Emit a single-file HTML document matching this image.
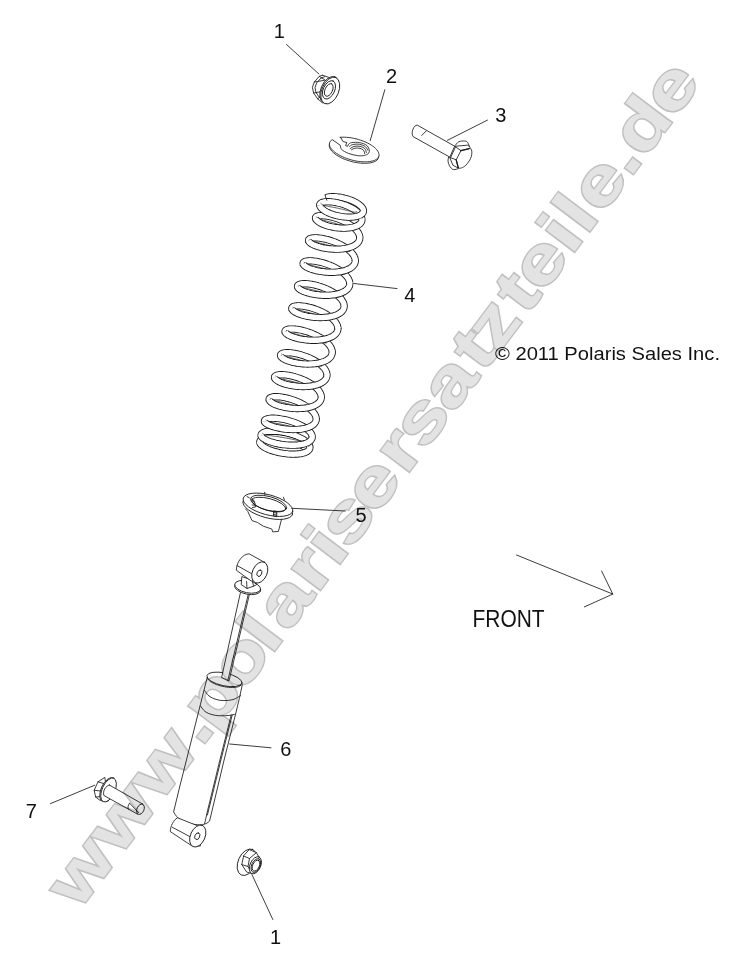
<!DOCTYPE html>
<html><head><meta charset="utf-8"><title>Shock diagram</title>
<style>
html,body{margin:0;padding:0;background:#fff;}
body{width:742px;height:967px;overflow:hidden;position:relative;}
svg{position:absolute;left:0;top:0;display:block;}
text{font-family:"Liberation Sans",sans-serif;}
.ln{fill:none;stroke:#1a1a1a;stroke-width:0.85;stroke-linecap:round;stroke-linejoin:round;}
.lw{fill:#fff;stroke:#1a1a1a;stroke-width:0.85;stroke-linecap:round;stroke-linejoin:round;}
.lk{fill:none;stroke:#1a1a1a;stroke-width:1.3;stroke-linecap:round;}
.lb{fill:#111;font-size:20px;}
</style></head><body>
<svg width="742" height="967" viewBox="0 0 742 967">
<path d="M325.9 197.6L326.7 197.4L327.6 197.2L328.5 197.0L329.5 196.9L330.6 196.8L331.7 196.7L332.8 196.7L334.0 196.7L335.2 196.8L336.5 196.9L337.8 197.0L339.1 197.1L340.4 197.3L341.7 197.6L343.0 197.8L344.4 198.2L345.7 198.5L347.0 198.9L348.3 199.3L349.5 199.7L350.8 200.1L352.0 200.6L353.1 201.1L354.3 201.7L355.3 202.2L356.4 202.8L357.3 203.4L358.3 204.0L359.1 204.6L359.9 205.2L360.6 205.8L361.2 206.4L361.8 207.1L362.3 207.7L362.7 208.3L363.0 208.9L363.2 209.5L363.4 210.1L363.4 210.7" fill="none" stroke="#1a1a1a" stroke-width="7.2" stroke-linecap="butt" stroke-linejoin="round"/>
<path d="M325.9 197.6L326.7 197.4L327.6 197.2L328.5 197.0L329.5 196.9L330.5 196.8L331.6 196.7L332.7 196.7L333.9 196.7L335.1 196.8L336.4 196.8L337.6 197.0L338.9 197.1L340.2 197.3L341.5 197.5L342.8 197.8L344.1 198.1L345.4 198.4L346.7 198.8L348.0 199.2L349.3 199.6L350.5 200.0L351.7 200.5L352.9 201.0L354.0 201.5L355.1 202.1L356.1 202.6L357.1 203.2L358.0 203.8L358.9 204.4L359.6 205.0L360.4 205.6L361.0 206.2L361.6 206.8L362.1 207.5L362.5 208.1L362.9 208.7L363.1 209.3L363.3 209.9L363.4 210.5L363.4 211.1" fill="none" stroke="#fff" stroke-width="5.44" stroke-linecap="butt" stroke-linejoin="round"/>
<path d="M319.8 205.7L319.7 205.2L319.7 204.8L319.8 204.4L319.9 204.1L320.2 203.7L320.5 203.4L320.9 203.1L321.4 202.8L321.9 202.5L322.6 202.3L323.3 202.1L324.1 202.0L324.9 201.9L325.9 201.8L326.9 201.7L327.9 201.7L329.0 201.7L330.2 201.8L331.4 201.9L332.6 202.0L333.9 202.2L335.2 202.4L336.5 202.7L337.8 202.9L339.2 203.3L340.5 203.6L341.9 204.0L343.2 204.5L344.6 204.9L345.9 205.4L347.2 206.0L348.5 206.5L349.8 207.1L351.0 207.7L352.2 208.4L353.3 209.0L354.4 209.7L355.4 210.4L356.4 211.1L357.2 211.9L358.1 212.6L358.8 213.3L359.5 214.1L360.1 214.8L360.6 215.6L361.1 216.3L361.4 217.1L361.7 217.8L361.8 218.6L361.9 219.3" fill="none" stroke="#1a1a1a" stroke-width="7.2" stroke-linecap="butt" stroke-linejoin="round"/>
<path d="M319.9 206.0L319.8 205.5L319.7 205.1L319.7 204.7L319.8 204.3L320.0 203.9L320.3 203.6L320.6 203.3L321.0 203.0L321.5 202.7L322.1 202.5L322.7 202.3L323.5 202.1L324.3 201.9L325.1 201.8L326.0 201.8L327.0 201.7L328.1 201.7L329.2 201.7L330.3 201.8L331.5 201.9L332.7 202.0L333.9 202.2L335.2 202.4L336.5 202.7L337.8 203.0L339.2 203.3L340.5 203.6L341.8 204.0L343.2 204.5L344.5 204.9L345.8 205.4L347.1 205.9L348.4 206.5L349.6 207.1L350.8 207.7L352.0 208.3L353.1 208.9L354.2 209.6L355.2 210.3L356.1 211.0L357.0 211.7L357.9 212.4L358.6 213.1L359.3 213.9L359.9 214.6L360.5 215.4L360.9 216.1L361.3 216.8L361.6 217.6L361.8 218.3L361.9 219.0L361.9 219.7" fill="none" stroke="#fff" stroke-width="5.44" stroke-linecap="butt" stroke-linejoin="round"/>
<path d="M315.7 218.7L315.5 218.3L315.5 217.9L315.5 217.6L315.6 217.3L315.9 217.0L316.2 216.7L316.6 216.4L317.1 216.2L317.7 216.0L318.4 215.9L319.1 215.8L319.9 215.7L320.8 215.6L321.8 215.6L322.9 215.7L324.0 215.7L325.1 215.8L326.4 216.0L327.6 216.2L328.9 216.4L330.3 216.7L331.6 217.0L333.0 217.4L334.5 217.8L335.9 218.2L337.3 218.7L338.8 219.2L340.2 219.8L341.6 220.4L343.1 221.0L344.4 221.6L345.8 222.3L347.1 223.1L348.4 223.8L349.7 224.6L350.9 225.4L352.0 226.2L353.1 227.0L354.1 227.9L355.0 228.8L355.9 229.6L356.7 230.5L357.4 231.4L358.0 232.3L358.5 233.2L358.9 234.1L359.3 235.0L359.5 235.9L359.7 236.8L359.8 237.6" fill="none" stroke="#1a1a1a" stroke-width="7.2" stroke-linecap="butt" stroke-linejoin="round"/>
<path d="M315.8 219.0L315.6 218.5L315.5 218.1L315.5 217.8L315.6 217.4L315.7 217.1L316.0 216.8L316.4 216.6L316.8 216.3L317.4 216.1L318.0 216.0L318.7 215.8L319.5 215.7L320.3 215.7L321.3 215.6L322.3 215.6L323.4 215.7L324.5 215.8L325.7 215.9L326.9 216.1L328.2 216.3L329.6 216.5L330.9 216.8L332.3 217.2L333.7 217.6L335.2 218.0L336.6 218.4L338.1 219.0L339.5 219.5L341.0 220.1L342.4 220.7L343.8 221.3L345.2 222.0L346.5 222.7L347.8 223.5L349.1 224.2L350.3 225.0L351.5 225.8L352.6 226.7L353.6 227.5L354.6 228.4L355.5 229.3L356.3 230.1L357.1 231.0L357.7 231.9L358.3 232.8L358.8 233.7L359.2 234.6L359.5 235.5L359.7 236.4L359.8 237.3L359.8 238.1" fill="none" stroke="#fff" stroke-width="5.44" stroke-linecap="butt" stroke-linejoin="round"/>
<path d="M308.7 241.2L308.5 240.8L308.5 240.4L308.6 240.0L308.7 239.6L309.0 239.3L309.4 239.0L309.8 238.7L310.4 238.5L311.0 238.3L311.8 238.1L312.6 238.0L313.5 237.9L314.5 237.8L315.5 237.8L316.6 237.8L317.8 237.9L319.1 238.0L320.4 238.2L321.7 238.4L323.1 238.6L324.5 238.9L326.0 239.3L327.5 239.6L329.0 240.0L330.5 240.5L332.0 241.0L333.6 241.6L335.1 242.1L336.6 242.8L338.1 243.4L339.5 244.1L340.9 244.8L342.3 245.6L343.7 246.4L345.0 247.2L346.2 248.0L347.4 248.9L348.5 249.7L349.5 250.6L350.5 251.5L351.4 252.4L352.2 253.4L352.9 254.3L353.5 255.2L354.1 256.1L354.5 257.1L354.9 258.0L355.1 258.9L355.2 259.8L355.3 260.7" fill="none" stroke="#1a1a1a" stroke-width="7.2" stroke-linecap="butt" stroke-linejoin="round"/>
<path d="M308.8 241.4L308.6 241.0L308.5 240.6L308.5 240.2L308.6 239.8L308.8 239.5L309.1 239.2L309.5 238.9L310.0 238.6L310.6 238.4L311.3 238.2L312.1 238.1L313.0 237.9L313.9 237.9L314.9 237.8L316.0 237.8L317.2 237.9L318.4 238.0L319.7 238.1L321.0 238.3L322.4 238.5L323.8 238.8L325.3 239.1L326.7 239.4L328.2 239.8L329.8 240.3L331.3 240.8L332.8 241.3L334.3 241.9L335.8 242.5L337.3 243.1L338.8 243.8L340.3 244.5L341.7 245.2L343.0 246.0L344.4 246.8L345.6 247.6L346.8 248.5L348.0 249.3L349.1 250.2L350.1 251.1L351.0 252.0L351.8 252.9L352.6 253.9L353.3 254.8L353.8 255.7L354.3 256.7L354.7 257.6L355.0 258.5L355.2 259.4L355.3 260.3L355.3 261.2" fill="none" stroke="#fff" stroke-width="5.44" stroke-linecap="butt" stroke-linejoin="round"/>
<path d="M303.3 264.2L303.1 263.8L303.1 263.4L303.2 263.0L303.3 262.6L303.6 262.3L303.9 262.0L304.4 261.7L305.0 261.5L305.6 261.3L306.3 261.1L307.1 261.0L308.0 260.9L309.0 260.8L310.1 260.8L311.2 260.8L312.4 260.9L313.6 261.0L314.9 261.2L316.3 261.4L317.7 261.6L319.1 261.9L320.6 262.3L322.0 262.6L323.6 263.0L325.1 263.5L326.6 264.0L328.1 264.6L329.6 265.1L331.1 265.8L332.6 266.4L334.1 267.1L335.5 267.8L336.9 268.6L338.2 269.4L339.5 270.2L340.7 271.0L341.9 271.9L343.0 272.7L344.0 273.6L345.0 274.5L345.9 275.4L346.7 276.4L347.4 277.3L348.0 278.2L348.6 279.1L349.0 280.1L349.4 281.0L349.6 281.9L349.7 282.8L349.8 283.7" fill="none" stroke="#1a1a1a" stroke-width="7.2" stroke-linecap="butt" stroke-linejoin="round"/>
<path d="M303.4 264.4L303.2 264.0L303.1 263.6L303.1 263.2L303.2 262.8L303.4 262.5L303.7 262.2L304.1 261.9L304.6 261.6L305.2 261.4L305.9 261.2L306.7 261.1L307.5 260.9L308.5 260.9L309.5 260.8L310.6 260.8L311.7 260.9L313.0 261.0L314.2 261.1L315.6 261.3L316.9 261.5L318.4 261.8L319.8 262.1L321.3 262.4L322.8 262.8L324.3 263.3L325.8 263.8L327.4 264.3L328.9 264.9L330.4 265.5L331.9 266.1L333.4 266.8L334.8 267.5L336.2 268.2L337.6 269.0L338.9 269.8L340.2 270.6L341.4 271.5L342.5 272.3L343.6 273.2L344.6 274.1L345.5 275.0L346.4 275.9L347.1 276.9L347.8 277.8L348.4 278.7L348.8 279.7L349.2 280.6L349.5 281.5L349.7 282.4L349.8 283.3L349.8 284.2" fill="none" stroke="#fff" stroke-width="5.44" stroke-linecap="butt" stroke-linejoin="round"/>
<path d="M297.7 287.2L297.5 286.7L297.5 286.3L297.6 286.0L297.7 285.6L298.0 285.3L298.3 284.9L298.8 284.7L299.3 284.4L300.0 284.2L300.7 284.0L301.5 283.9L302.4 283.8L303.4 283.7L304.5 283.7L305.6 283.7L306.8 283.8L308.0 283.9L309.3 284.0L310.7 284.2L312.1 284.4L313.5 284.7L314.9 285.0L316.4 285.4L317.9 285.8L319.4 286.3L321.0 286.8L322.5 287.3L324.0 287.9L325.5 288.5L327.0 289.1L328.4 289.8L329.8 290.5L331.2 291.3L332.6 292.0L333.9 292.8L335.1 293.6L336.3 294.5L337.4 295.4L338.4 296.2L339.4 297.1L340.3 298.0L341.1 298.9L341.8 299.8L342.4 300.8L342.9 301.7L343.4 302.6L343.7 303.5L344.0 304.4L344.1 305.3L344.1 306.2" fill="none" stroke="#1a1a1a" stroke-width="7.2" stroke-linecap="butt" stroke-linejoin="round"/>
<path d="M297.8 287.4L297.6 287.0L297.5 286.6L297.5 286.2L297.6 285.8L297.8 285.4L298.1 285.1L298.5 284.8L299.0 284.6L299.6 284.3L300.3 284.1L301.1 283.9L301.9 283.8L302.9 283.7L303.9 283.7L305.0 283.7L306.1 283.7L307.3 283.8L308.6 283.9L310.0 284.1L311.3 284.3L312.7 284.6L314.2 284.9L315.7 285.2L317.2 285.6L318.7 286.0L320.2 286.5L321.7 287.0L323.3 287.6L324.8 288.2L326.3 288.8L327.7 289.5L329.2 290.2L330.6 290.9L331.9 291.7L333.3 292.5L334.5 293.3L335.7 294.1L336.9 295.0L337.9 295.8L338.9 296.7L339.9 297.6L340.7 298.5L341.5 299.4L342.1 300.4L342.7 301.3L343.2 302.2L343.6 303.1L343.9 304.0L344.0 304.9L344.1 305.8L344.1 306.7" fill="none" stroke="#fff" stroke-width="5.44" stroke-linecap="butt" stroke-linejoin="round"/>
<path d="M292.0 309.2L291.8 308.8L291.8 308.4L291.8 308.0L292.0 307.6L292.2 307.3L292.6 307.0L293.0 306.7L293.6 306.5L294.2 306.3L294.9 306.1L295.7 306.0L296.6 305.9L297.6 305.8L298.6 305.8L299.7 305.8L300.9 305.9L302.1 306.0L303.4 306.2L304.8 306.4L306.1 306.6L307.6 306.9L309.0 307.3L310.5 307.6L312.0 308.0L313.5 308.5L315.0 309.0L316.5 309.6L318.0 310.1L319.5 310.8L320.9 311.4L322.4 312.1L323.8 312.8L325.2 313.6L326.5 314.4L327.8 315.2L329.0 316.0L330.2 316.9L331.3 317.7L332.3 318.6L333.2 319.5L334.1 320.4L334.9 321.4L335.6 322.3L336.2 323.2L336.7 324.1L337.2 325.1L337.5 326.0L337.7 326.9L337.9 327.8L337.9 328.7" fill="none" stroke="#1a1a1a" stroke-width="7.2" stroke-linecap="butt" stroke-linejoin="round"/>
<path d="M292.1 309.4L291.9 309.0L291.8 308.6L291.8 308.2L291.9 307.8L292.1 307.5L292.4 307.2L292.8 306.9L293.2 306.6L293.8 306.4L294.5 306.2L295.3 306.1L296.1 305.9L297.0 305.9L298.0 305.8L299.1 305.8L300.3 305.9L301.5 306.0L302.7 306.1L304.1 306.3L305.4 306.5L306.8 306.8L308.3 307.1L309.7 307.4L311.2 307.8L312.7 308.3L314.2 308.8L315.7 309.3L317.2 309.9L318.7 310.5L320.2 311.1L321.7 311.8L323.1 312.5L324.5 313.2L325.9 314.0L327.2 314.8L328.4 315.6L329.6 316.5L330.8 317.3L331.8 318.2L332.8 319.1L333.7 320.0L334.6 320.9L335.3 321.9L336.0 322.8L336.5 323.7L337.0 324.7L337.4 325.6L337.6 326.5L337.8 327.4L337.9 328.3L337.9 329.2" fill="none" stroke="#fff" stroke-width="5.44" stroke-linecap="butt" stroke-linejoin="round"/>
<path d="M285.2 332.2L285.0 331.8L285.0 331.4L285.1 331.0L285.3 330.7L285.5 330.3L285.9 330.1L286.4 329.8L286.9 329.6L287.6 329.4L288.3 329.2L289.2 329.1L290.1 329.0L291.1 329.0L292.1 329.0L293.3 329.0L294.5 329.1L295.7 329.2L297.0 329.4L298.4 329.6L299.8 329.8L301.2 330.1L302.7 330.5L304.2 330.9L305.7 331.3L307.2 331.8L308.8 332.3L310.3 332.8L311.8 333.4L313.3 334.1L314.8 334.7L316.3 335.4L317.7 336.2L319.1 336.9L320.5 337.7L321.8 338.5L323.0 339.4L324.2 340.2L325.3 341.1L326.4 342.0L327.4 342.9L328.2 343.8L329.1 344.8L329.8 345.7L330.4 346.7L331.0 347.6L331.4 348.5L331.8 349.5L332.0 350.4L332.2 351.3L332.2 352.2" fill="none" stroke="#1a1a1a" stroke-width="7.2" stroke-linecap="butt" stroke-linejoin="round"/>
<path d="M285.3 332.4L285.1 332.0L285.0 331.6L285.0 331.2L285.1 330.9L285.4 330.5L285.7 330.2L286.1 329.9L286.6 329.7L287.2 329.5L287.9 329.3L288.7 329.2L289.6 329.0L290.5 329.0L291.5 329.0L292.6 329.0L293.8 329.0L295.0 329.1L296.3 329.3L297.7 329.5L299.1 329.7L300.5 330.0L301.9 330.3L303.4 330.7L304.9 331.1L306.5 331.5L308.0 332.0L309.5 332.5L311.1 333.1L312.6 333.7L314.1 334.4L315.6 335.1L317.1 335.8L318.5 336.6L319.8 337.3L321.2 338.1L322.5 339.0L323.7 339.8L324.8 340.7L325.9 341.6L326.9 342.5L327.9 343.4L328.7 344.4L329.5 345.3L330.2 346.2L330.7 347.2L331.2 348.1L331.6 349.1L331.9 350.0L332.1 350.9L332.2 351.8L332.2 352.7" fill="none" stroke="#fff" stroke-width="5.44" stroke-linecap="butt" stroke-linejoin="round"/>
<path d="M280.7 356.2L280.5 355.7L280.5 355.3L280.5 355.0L280.7 354.6L281.0 354.3L281.3 353.9L281.8 353.7L282.3 353.4L283.0 353.2L283.7 353.0L284.5 352.9L285.4 352.8L286.4 352.7L287.4 352.7L288.5 352.7L289.7 352.8L291.0 352.9L292.3 353.0L293.6 353.2L295.0 353.4L296.4 353.7L297.9 354.0L299.4 354.4L300.9 354.8L302.4 355.3L303.9 355.8L305.4 356.3L306.9 356.9L308.4 357.5L309.9 358.1L311.3 358.8L312.7 359.5L314.1 360.3L315.5 361.0L316.8 361.8L318.0 362.6L319.2 363.5L320.3 364.4L321.3 365.2L322.2 366.1L323.1 367.0L323.9 367.9L324.6 368.8L325.3 369.8L325.8 370.7L326.2 371.6L326.6 372.5L326.8 373.4L326.9 374.3L327.0 375.2" fill="none" stroke="#1a1a1a" stroke-width="7.2" stroke-linecap="butt" stroke-linejoin="round"/>
<path d="M280.8 356.4L280.6 356.0L280.5 355.6L280.5 355.2L280.6 354.8L280.8 354.4L281.1 354.1L281.5 353.8L282.0 353.6L282.6 353.3L283.3 353.1L284.0 352.9L284.9 352.8L285.8 352.7L286.8 352.7L287.9 352.7L289.1 352.7L290.3 352.8L291.6 352.9L292.9 353.1L294.3 353.3L295.7 353.6L297.1 353.9L298.6 354.2L300.1 354.6L301.6 355.0L303.1 355.5L304.6 356.0L306.2 356.6L307.7 357.2L309.2 357.8L310.6 358.5L312.1 359.2L313.5 359.9L314.8 360.7L316.2 361.5L317.4 362.3L318.6 363.1L319.8 364.0L320.8 364.8L321.8 365.7L322.7 366.6L323.6 367.5L324.3 368.4L325.0 369.4L325.6 370.3L326.1 371.2L326.4 372.1L326.7 373.0L326.9 373.9L327.0 374.8L327.0 375.7" fill="none" stroke="#fff" stroke-width="5.44" stroke-linecap="butt" stroke-linejoin="round"/>
<path d="M274.7 378.2L274.5 377.7L274.5 377.3L274.6 377.0L274.7 376.6L275.0 376.3L275.4 375.9L275.8 375.7L276.4 375.4L277.0 375.2L277.8 375.0L278.6 374.9L279.5 374.8L280.5 374.7L281.5 374.7L282.6 374.7L283.8 374.8L285.1 374.9L286.4 375.0L287.7 375.2L289.1 375.4L290.5 375.7L292.0 376.0L293.5 376.4L295.0 376.8L296.5 377.3L298.0 377.8L299.6 378.3L301.1 378.9L302.6 379.5L304.1 380.1L305.5 380.8L306.9 381.5L308.3 382.3L309.7 383.0L311.0 383.8L312.2 384.6L313.4 385.5L314.5 386.4L315.5 387.2L316.5 388.1L317.4 389.0L318.2 389.9L318.9 390.8L319.5 391.8L320.1 392.7L320.5 393.6L320.9 394.5L321.1 395.4L321.2 396.3L321.3 397.2" fill="none" stroke="#1a1a1a" stroke-width="7.2" stroke-linecap="butt" stroke-linejoin="round"/>
<path d="M274.8 378.4L274.6 378.0L274.5 377.6L274.5 377.2L274.6 376.8L274.8 376.4L275.1 376.1L275.5 375.8L276.0 375.6L276.6 375.3L277.3 375.1L278.1 374.9L279.0 374.8L279.9 374.7L280.9 374.7L282.0 374.7L283.2 374.7L284.4 374.8L285.7 374.9L287.0 375.1L288.4 375.3L289.8 375.6L291.3 375.9L292.7 376.2L294.2 376.6L295.8 377.0L297.3 377.5L298.8 378.0L300.3 378.6L301.8 379.2L303.3 379.8L304.8 380.5L306.3 381.2L307.7 381.9L309.0 382.7L310.4 383.5L311.6 384.3L312.8 385.1L314.0 386.0L315.1 386.8L316.1 387.7L317.0 388.6L317.8 389.5L318.6 390.4L319.3 391.4L319.8 392.3L320.3 393.2L320.7 394.1L321.0 395.0L321.2 395.9L321.3 396.8L321.3 397.7" fill="none" stroke="#fff" stroke-width="5.44" stroke-linecap="butt" stroke-linejoin="round"/>
<path d="M269.3 400.2L269.1 399.7L269.1 399.3L269.2 398.9L269.4 398.6L269.6 398.2L270.0 397.9L270.5 397.6L271.0 397.4L271.7 397.2L272.4 397.0L273.2 396.8L274.2 396.7L275.1 396.7L276.2 396.7L277.3 396.7L278.5 396.8L279.8 396.9L281.1 397.0L282.5 397.2L283.9 397.5L285.3 397.8L286.8 398.1L288.3 398.5L289.8 398.9L291.3 399.4L292.8 399.9L294.4 400.4L295.9 401.0L297.4 401.6L298.9 402.3L300.4 402.9L301.8 403.7L303.2 404.4L304.5 405.2L305.8 406.0L307.1 406.8L308.3 407.6L309.4 408.5L310.4 409.3L311.4 410.2L312.3 411.1L313.1 412.0L313.8 412.9L314.5 413.8L315.0 414.7L315.4 415.6L315.8 416.4L316.0 417.3L316.2 418.2L316.2 419.0" fill="none" stroke="#1a1a1a" stroke-width="7.2" stroke-linecap="butt" stroke-linejoin="round"/>
<path d="M269.4 400.4L269.2 400.0L269.1 399.6L269.1 399.2L269.2 398.8L269.5 398.4L269.8 398.1L270.2 397.8L270.7 397.5L271.3 397.3L272.0 397.1L272.8 396.9L273.6 396.8L274.6 396.7L275.6 396.7L276.7 396.7L277.9 396.7L279.1 396.8L280.4 396.9L281.7 397.1L283.1 397.4L284.6 397.6L286.0 397.9L287.5 398.3L289.0 398.7L290.5 399.1L292.1 399.6L293.6 400.1L295.2 400.7L296.7 401.3L298.2 401.9L299.7 402.6L301.1 403.3L302.5 404.1L303.9 404.8L305.2 405.6L306.5 406.4L307.7 407.2L308.9 408.1L310.0 408.9L311.0 409.8L311.9 410.7L312.8 411.6L313.5 412.5L314.2 413.4L314.8 414.3L315.3 415.2L315.7 416.1L315.9 416.9L316.1 417.8L316.2 418.7L316.2 419.5" fill="none" stroke="#fff" stroke-width="5.44" stroke-linecap="butt" stroke-linejoin="round"/>
<path d="M264.6 421.8L264.4 421.4L264.4 421.0L264.5 420.6L264.7 420.3L265.0 419.9L265.4 419.6L265.9 419.3L266.5 419.1L267.2 418.8L267.9 418.7L268.8 418.5L269.7 418.4L270.7 418.3L271.8 418.2L273.0 418.2L274.2 418.2L275.5 418.3L276.8 418.4L278.2 418.5L279.6 418.7L281.0 419.0L282.5 419.2L284.0 419.5L285.6 419.8L287.1 420.2L288.6 420.6L290.2 421.1L291.7 421.6L293.2 422.1L294.7 422.6L296.2 423.2L297.6 423.8L299.0 424.4L300.4 425.1L301.7 425.7L303.0 426.4L304.1 427.1L305.3 427.9L306.3 428.6L307.3 429.4L308.2 430.1L309.0 430.9L309.7 431.6L310.4 432.4L310.9 433.2L311.4 433.9L311.7 434.7L312.0 435.4L312.1 436.1L312.2 436.9" fill="none" stroke="#1a1a1a" stroke-width="7.2" stroke-linecap="butt" stroke-linejoin="round"/>
<path d="M264.7 422.1L264.5 421.7L264.4 421.3L264.5 420.9L264.6 420.5L264.9 420.1L265.2 419.8L265.6 419.5L266.2 419.2L266.8 419.0L267.5 418.8L268.3 418.6L269.2 418.4L270.2 418.3L271.2 418.3L272.3 418.2L273.5 418.2L274.8 418.3L276.1 418.3L277.4 418.5L278.8 418.6L280.3 418.8L281.8 419.1L283.3 419.4L284.8 419.7L286.3 420.0L287.9 420.4L289.4 420.9L291.0 421.3L292.5 421.8L294.0 422.4L295.5 422.9L297.0 423.5L298.4 424.1L299.8 424.8L301.1 425.4L302.4 426.1L303.6 426.8L304.8 427.5L305.9 428.3L306.9 429.0L307.8 429.8L308.7 430.5L309.4 431.3L310.1 432.1L310.7 432.8L311.2 433.6L311.6 434.4L311.9 435.1L312.1 435.8L312.2 436.6L312.2 437.3" fill="none" stroke="#fff" stroke-width="5.44" stroke-linecap="butt" stroke-linejoin="round"/>
<path d="M261.2 436.0L261.1 435.5L261.1 435.0L261.2 434.6L261.4 434.1L261.7 433.7L262.2 433.3L262.7 433.0L263.3 432.6L264.0 432.3L264.8 432.0L265.6 431.8L266.6 431.6L267.6 431.4L268.7 431.3L269.9 431.2L271.1 431.2L272.4 431.2L273.8 431.2L275.2 431.3L276.6 431.4L278.1 431.5L279.6 431.7L281.1 431.9L282.7 432.2L284.2 432.5L285.8 432.8L287.3 433.2L288.9 433.6L290.4 434.1L292.0 434.5L293.5 435.0L294.9 435.5L296.3 436.1L297.7 436.7L299.0 437.3L300.3 437.9L301.5 438.5L302.7 439.2L303.7 439.8L304.7 440.5L305.7 441.2L306.5 441.9L307.2 442.6L307.9 443.3L308.5 444.0L308.9 444.6L309.3 445.3L309.6 446.0L309.8 446.6L309.9 447.3" fill="none" stroke="#1a1a1a" stroke-width="7.2" stroke-linecap="butt" stroke-linejoin="round"/>
<path d="M261.3 436.2L261.1 435.8L261.1 435.3L261.1 434.8L261.3 434.4L261.5 433.9L261.9 433.5L262.4 433.2L262.9 432.8L263.6 432.5L264.3 432.2L265.1 431.9L266.0 431.7L267.0 431.5L268.1 431.4L269.2 431.3L270.4 431.2L271.7 431.2L273.0 431.2L274.4 431.2L275.8 431.3L277.3 431.4L278.8 431.6L280.3 431.8L281.9 432.1L283.4 432.3L285.0 432.7L286.6 433.0L288.1 433.4L289.7 433.8L291.2 434.3L292.7 434.8L294.2 435.3L295.7 435.8L297.1 436.4L298.4 437.0L299.7 437.6L301.0 438.2L302.2 438.9L303.3 439.5L304.3 440.2L305.3 440.9L306.1 441.6L306.9 442.3L307.6 443.0L308.2 443.7L308.8 444.3L309.2 445.0L309.5 445.7L309.7 446.4L309.8 447.0L309.9 447.6" fill="none" stroke="#fff" stroke-width="5.44" stroke-linecap="butt" stroke-linejoin="round"/>
<path d="M259.8 442.8L259.8 442.3L259.8 441.8L259.9 441.3L260.1 440.8L260.4 440.4L260.9 440.0L261.4 439.6L262.0 439.3L262.7 438.9L263.4 438.6L264.3 438.4L265.2 438.2L266.3 438.0L267.3 437.8L268.5 437.7L269.7 437.6L271.0 437.6L272.3 437.6L273.7 437.6L275.2 437.7L276.6 437.8L278.1 438.0L279.6 438.2L281.2 438.4L282.7 438.7L284.3 439.0L285.8 439.3L287.4 439.7L288.9 440.1L290.4 440.5L291.9 441.0L293.4 441.5L294.8 442.0L296.2 442.6L297.5 443.1L298.8 443.7L300.0 444.3L301.2 444.9L302.3 445.6L303.3 446.2L304.3 446.9L305.1 447.5L305.9 448.2L306.6 448.8L307.2 449.5L307.7 450.2L308.1 450.8" fill="none" stroke="#1a1a1a" stroke-width="7.2" stroke-linecap="butt" stroke-linejoin="round"/>
<path d="M259.9 443.1L259.8 442.6L259.8 442.1L259.8 441.6L260.0 441.1L260.2 440.7L260.6 440.3L261.0 439.9L261.6 439.5L262.2 439.2L262.9 438.8L263.7 438.6L264.6 438.3L265.5 438.1L266.6 437.9L267.7 437.8L268.8 437.7L270.1 437.6L271.3 437.6L272.7 437.6L274.1 437.6L275.5 437.7L276.9 437.9L278.4 438.0L279.9 438.2L281.5 438.5L283.0 438.7L284.6 439.0L286.1 439.4L287.6 439.8L289.2 440.2L290.7 440.6L292.1 441.1L293.6 441.6L295.0 442.1L296.4 442.6L297.7 443.2L298.9 443.8L300.1 444.4L301.3 445.0L302.4 445.6L303.4 446.3L304.3 446.9L305.1 447.6L305.9 448.2L306.6 448.9L307.2 449.5L307.7 450.2L308.1 450.8" fill="none" stroke="#fff" stroke-width="5.44" stroke-linecap="butt" stroke-linejoin="round"/>
<path d="M320.6 203.3L321.9 204.4L322.5 204.8L323.1 205.1L323.7 205.3L324.3 205.5L325.0 205.7L325.7 205.9L326.5 206.0L327.4 206.2L328.3 206.4L329.3 206.6L330.3 206.8L331.4 207.0L332.5 207.2L333.7 207.4L334.9 207.6L336.1 207.9L337.3 208.1L338.6 208.4L339.9 208.7L341.2 209.0L342.5 209.3L343.8 209.6L345.0 210.0L346.3 210.3L347.6 210.6L348.9 210.9L350.1 211.3L351.3 211.6L352.6 211.8L353.8 212.1L355.1 212.2L357.0 211.7" fill="none" stroke="#333" stroke-width="0.8"/>
<path d="M316.3 216.6L317.4 217.8L318.0 218.3L318.6 218.7L319.1 219.0L319.8 219.2L320.5 219.5L321.3 219.7L322.1 220.0L323.1 220.2L324.0 220.4L325.1 220.7L326.2 221.0L327.3 221.3L328.5 221.6L329.8 221.9L331.1 222.2L332.4 222.6L333.7 223.0L335.1 223.3L336.4 223.7L337.8 224.2L339.2 224.6L340.6 225.0L342.0 225.5L343.4 225.9L344.7 226.4L346.1 226.9L347.4 227.3L348.7 227.8L350.0 228.2L351.4 228.6L352.8 228.9L354.8 228.6" fill="none" stroke="#333" stroke-width="0.8"/>
<path d="M309.5 238.9L310.6 240.1L311.3 240.6L311.9 240.9L312.6 241.2L313.3 241.4L314.1 241.7L314.9 241.9L315.9 242.1L316.9 242.4L317.9 242.6L319.1 242.9L320.3 243.2L321.5 243.5L322.8 243.8L324.1 244.1L325.5 244.5L326.9 244.9L328.3 245.2L329.8 245.7L331.2 246.1L332.7 246.5L334.1 247.0L335.6 247.4L337.0 247.9L338.5 248.4L339.9 248.9L341.3 249.4L342.7 249.9L344.1 250.4L345.4 250.8L346.8 251.3L348.2 251.6L350.3 251.3" fill="none" stroke="#333" stroke-width="0.8"/>
<path d="M304.1 261.9L305.2 263.1L305.9 263.6L306.5 263.9L307.1 264.2L307.9 264.4L308.6 264.7L309.5 264.9L310.4 265.1L311.4 265.4L312.5 265.6L313.6 265.9L314.8 266.2L316.1 266.5L317.4 266.8L318.7 267.1L320.0 267.5L321.4 267.9L322.9 268.2L324.3 268.7L325.8 269.1L327.2 269.5L328.7 270.0L330.1 270.4L331.6 270.9L333.0 271.4L334.4 271.9L335.8 272.4L337.2 272.9L338.6 273.4L339.9 273.8L341.3 274.3L342.7 274.6L344.8 274.3" fill="none" stroke="#333" stroke-width="0.8"/>
<path d="M298.5 284.9L299.6 286.0L300.3 286.5L300.9 286.8L301.5 287.1L302.2 287.3L302.9 287.5L303.7 287.7L304.6 287.9L305.6 288.2L306.6 288.4L307.7 288.6L308.8 288.9L310.0 289.2L311.2 289.5L312.5 289.8L313.8 290.1L315.2 290.4L316.5 290.8L317.9 291.2L319.3 291.6L320.7 292.0L322.1 292.4L323.5 292.9L324.9 293.3L326.3 293.8L327.7 294.2L329.1 294.7L330.5 295.2L331.8 295.6L333.1 296.1L334.4 296.5L335.8 296.9L337.1 297.2L339.2 296.9" fill="none" stroke="#333" stroke-width="0.8"/>
<path d="M292.7 306.9L293.8 308.1L294.5 308.5L295.0 308.9L295.7 309.2L296.3 309.4L297.1 309.6L297.9 309.9L298.7 310.1L299.7 310.3L300.7 310.6L301.8 310.8L302.9 311.1L304.1 311.4L305.3 311.7L306.5 312.0L307.8 312.3L309.2 312.7L310.5 313.0L311.9 313.4L313.3 313.8L314.7 314.2L316.1 314.7L317.5 315.1L318.9 315.6L320.3 316.1L321.6 316.5L323.0 317.0L324.4 317.5L325.7 318.0L327.0 318.4L328.3 318.9L329.6 319.3L331.0 319.6L333.0 319.3" fill="none" stroke="#333" stroke-width="0.8"/>
<path d="M286.0 330.0L287.1 331.2L287.8 331.6L288.4 332.0L289.0 332.3L289.7 332.5L290.5 332.8L291.3 333.0L292.2 333.2L293.2 333.5L294.2 333.7L295.3 334.0L296.5 334.2L297.7 334.5L298.9 334.9L300.2 335.2L301.5 335.5L302.9 335.9L304.3 336.3L305.7 336.7L307.1 337.1L308.5 337.5L309.9 338.0L311.3 338.4L312.8 338.9L314.2 339.4L315.6 339.8L317.0 340.3L318.3 340.8L319.7 341.3L321.0 341.8L322.4 342.2L323.7 342.7L325.1 343.0L327.1 342.7" fill="none" stroke="#333" stroke-width="0.8"/>
<path d="M281.4 353.9L282.6 355.0L283.2 355.5L283.8 355.8L284.5 356.1L285.1 356.3L285.9 356.5L286.7 356.7L287.6 356.9L288.5 357.2L289.6 357.4L290.6 357.6L291.8 357.9L292.9 358.2L294.2 358.5L295.4 358.8L296.7 359.1L298.1 359.4L299.4 359.8L300.8 360.2L302.2 360.6L303.6 361.0L305.0 361.4L306.4 361.8L307.9 362.3L309.2 362.8L310.6 363.2L312.0 363.7L313.4 364.2L314.7 364.6L316.0 365.1L317.3 365.5L318.6 365.9L320.0 366.2L322.0 365.9" fill="none" stroke="#333" stroke-width="0.8"/>
<path d="M275.5 375.9L276.7 377.0L277.3 377.5L277.9 377.8L278.6 378.1L279.3 378.3L280.1 378.6L281.0 378.8L281.9 379.0L282.9 379.2L284.0 379.5L285.1 379.7L286.3 380.0L287.5 380.3L288.8 380.6L290.2 380.9L291.5 381.3L292.9 381.6L294.3 382.0L295.8 382.4L297.2 382.8L298.7 383.3L300.2 383.7L301.6 384.2L303.1 384.6L304.5 385.1L305.9 385.6L307.3 386.1L308.7 386.6L310.1 387.0L311.4 387.5L312.8 387.9L314.2 388.2L316.3 387.9" fill="none" stroke="#333" stroke-width="0.8"/>
<path d="M270.1 397.8L271.3 399.0L272.0 399.5L272.6 399.8L273.2 400.1L274.0 400.3L274.8 400.5L275.6 400.8L276.6 401.0L277.6 401.2L278.7 401.5L279.8 401.8L281.0 402.0L282.3 402.3L283.6 402.6L284.9 403.0L286.3 403.3L287.7 403.7L289.1 404.1L290.6 404.5L292.0 404.9L293.5 405.4L295.0 405.8L296.4 406.3L297.9 406.8L299.4 407.3L300.8 407.7L302.2 408.2L303.6 408.7L305.0 409.2L306.3 409.6L307.7 410.0L309.1 410.3L311.2 410.0" fill="none" stroke="#333" stroke-width="0.8"/>
<path d="M265.6 419.5L266.8 420.7L267.4 421.1L268.1 421.5L268.8 421.7L269.6 421.9L270.5 422.1L271.4 422.3L272.3 422.5L273.4 422.7L274.5 423.0L275.7 423.2L276.9 423.4L278.2 423.6L279.5 423.9L280.9 424.2L282.3 424.5L283.7 424.8L285.2 425.1L286.6 425.4L288.1 425.7L289.6 426.1L291.1 426.4L292.5 426.8L294.0 427.2L295.5 427.6L296.9 427.9L298.3 428.3L299.7 428.7L301.0 429.0L302.4 429.3L303.7 429.6L305.1 429.7L307.1 429.2" fill="none" stroke="#333" stroke-width="0.8"/>
<path d="M262.3 433.2L263.6 434.2L264.4 434.6L265.1 434.8L265.9 435.0L266.7 435.2L267.6 435.3L268.5 435.5L269.5 435.6L270.6 435.7L271.7 435.9L272.9 436.0L274.2 436.2L275.5 436.4L276.8 436.5L278.2 436.7L279.6 437.0L281.1 437.2L282.5 437.4L284.0 437.7L285.5 438.0L287.0 438.2L288.5 438.5L290.0 438.8L291.5 439.1L292.9 439.4L294.4 439.7L295.8 440.0L297.2 440.3L298.5 440.6L299.9 440.8L301.2 441.0L302.6 441.0L304.5 440.4" fill="none" stroke="#333" stroke-width="0.8"/>
<path d="M261.0 439.9L262.4 440.9L263.2 441.3L263.9 441.5L264.7 441.7L265.4 441.8L266.3 442.0L267.2 442.1L268.1 442.2L269.1 442.3L270.2 442.4L271.4 442.5L272.6 442.6L273.8 442.8L275.1 442.9L276.4 443.0L277.8 443.2L279.2 443.3L280.6 443.5L282.1 443.7L283.5 443.9L285.0 444.0L286.5 444.2L288.0 444.4L289.4 444.6L290.9 444.8L292.4 445.0L293.8 445.1L295.3 445.3L296.7 445.3L298.2 445.3L300.1 444.4" fill="none" stroke="#333" stroke-width="0.8"/>
<path d="M363.4 210.3L363.4 210.9L363.4 211.4L363.3 212.0L363.0 212.5L362.7 213.0L362.4 213.5L361.9 214.0L361.3 214.5L360.7 214.9L360.0 215.2L359.2 215.6L358.4 215.9L357.5 216.2L356.5 216.5L355.5 216.7L354.4 216.8L353.2 217.0L352.0 217.1L350.8 217.1L349.5 217.2L348.2 217.2L346.9 217.1L345.6 217.0L344.2 216.9L342.8 216.7L341.5 216.5L340.1 216.3L338.7 216.0L337.3 215.7L336.0 215.4L334.7 215.1L333.4 214.7L332.1 214.3L330.9 213.8L329.7 213.4L328.6 212.9L327.5 212.4L326.5 211.9L325.5 211.3L324.6 210.8L323.8 210.3L323.0 209.7L322.3 209.1L321.7 208.6L321.2 208.0L320.7 207.5L320.4 206.9L320.1 206.4L319.9 205.8L319.8 205.3" fill="none" stroke="#1a1a1a" stroke-width="7.2" stroke-linecap="butt" stroke-linejoin="round"/>
<path d="M363.3 209.9L363.4 210.5L363.4 211.1L363.3 211.6L363.2 212.2L363.0 212.7L362.6 213.2L362.2 213.7L361.7 214.1L361.2 214.6L360.6 215.0L359.8 215.3L359.1 215.7L358.2 216.0L357.3 216.3L356.3 216.5L355.3 216.7L354.2 216.9L353.1 217.0L351.9 217.1L350.7 217.1L349.4 217.2L348.2 217.2L346.9 217.1L345.5 217.0L344.2 216.9L342.8 216.7L341.5 216.5L340.1 216.3L338.8 216.0L337.4 215.8L336.1 215.4L334.8 215.1L333.5 214.7L332.3 214.3L331.1 213.9L329.9 213.4L328.8 213.0L327.7 212.5L326.7 212.0L325.7 211.5L324.8 210.9L324.0 210.4L323.2 209.8L322.5 209.3L321.9 208.7L321.3 208.2L320.9 207.6L320.5 207.1L320.2 206.6L319.9 206.0L319.8 205.5L319.7 205.1" fill="none" stroke="#fff" stroke-width="5.44" stroke-linecap="butt" stroke-linejoin="round"/>
<path d="M361.9 218.7L361.9 219.4L361.9 220.1L361.8 220.8L361.6 221.5L361.3 222.1L360.9 222.7L360.4 223.3L359.9 223.9L359.2 224.4L358.5 224.9L357.7 225.4L356.8 225.9L355.9 226.3L354.9 226.6L353.8 227.0L352.7 227.3L351.5 227.5L350.2 227.7L348.9 227.9L347.6 228.0L346.2 228.1L344.8 228.2L343.4 228.2L341.9 228.1L340.5 228.1L339.0 228.0L337.6 227.8L336.1 227.7L334.6 227.4L333.2 227.2L331.8 226.9L330.4 226.6L329.0 226.3L327.7 225.9L326.5 225.5L325.2 225.1L324.1 224.7L322.9 224.2L321.9 223.8L320.9 223.3L320.0 222.8L319.2 222.3L318.4 221.8L317.8 221.3L317.2 220.8L316.7 220.3L316.2 219.8L315.9 219.3L315.7 218.8L315.5 218.4" fill="none" stroke="#1a1a1a" stroke-width="7.2" stroke-linecap="butt" stroke-linejoin="round"/>
<path d="M361.8 218.3L361.9 219.0L361.9 219.7L361.9 220.4L361.7 221.1L361.5 221.7L361.2 222.3L360.8 222.9L360.3 223.5L359.7 224.1L359.1 224.6L358.3 225.1L357.5 225.5L356.6 225.9L355.7 226.3L354.7 226.7L353.6 227.0L352.5 227.3L351.3 227.5L350.1 227.7L348.8 227.9L347.5 228.0L346.1 228.1L344.7 228.2L343.3 228.2L341.9 228.1L340.5 228.1L339.0 228.0L337.6 227.8L336.2 227.7L334.7 227.5L333.3 227.2L331.9 226.9L330.5 226.6L329.2 226.3L327.9 226.0L326.7 225.6L325.4 225.2L324.3 224.8L323.2 224.3L322.1 223.9L321.1 223.4L320.2 222.9L319.4 222.4L318.6 221.9L317.9 221.4L317.3 220.9L316.8 220.4L316.4 219.9L316.0 219.4L315.8 219.0L315.6 218.5L315.5 218.1" fill="none" stroke="#fff" stroke-width="5.44" stroke-linecap="butt" stroke-linejoin="round"/>
<path d="M359.7 237.0L359.8 237.8L359.7 238.7L359.6 239.5L359.3 240.3L359.0 241.1L358.5 241.8L358.0 242.5L357.4 243.2L356.6 243.9L355.8 244.5L354.9 245.1L354.0 245.7L352.9 246.2L351.8 246.7L350.6 247.1L349.4 247.5L348.0 247.9L346.7 248.2L345.3 248.5L343.8 248.7L342.3 248.9L340.8 249.0L339.2 249.1L337.6 249.2L336.0 249.2L334.4 249.2L332.8 249.1L331.2 249.0L329.6 248.8L328.0 248.7L326.5 248.5L325.0 248.2L323.5 247.9L322.0 247.6L320.6 247.3L319.3 246.9L318.0 246.6L316.8 246.2L315.6 245.7L314.6 245.3L313.6 244.9L312.6 244.4L311.8 244.0L311.1 243.5L310.4 243.0L309.8 242.6L309.4 242.1L309.0 241.7L308.7 241.3L308.6 240.8" fill="none" stroke="#1a1a1a" stroke-width="7.2" stroke-linecap="butt" stroke-linejoin="round"/>
<path d="M359.7 236.4L359.8 237.3L359.8 238.2L359.7 239.0L359.5 239.8L359.2 240.6L358.8 241.4L358.3 242.1L357.7 242.9L357.1 243.5L356.3 244.2L355.4 244.8L354.5 245.4L353.5 245.9L352.4 246.4L351.3 246.9L350.0 247.3L348.7 247.7L347.4 248.0L346.0 248.3L344.6 248.6L343.1 248.8L341.5 249.0L340.0 249.1L338.4 249.2L336.8 249.2L335.2 249.2L333.6 249.1L332.0 249.0L330.4 248.9L328.8 248.8L327.2 248.6L325.7 248.3L324.2 248.1L322.7 247.8L321.3 247.4L319.9 247.1L318.6 246.7L317.3 246.3L316.2 245.9L315.0 245.5L314.0 245.1L313.0 244.6L312.2 244.2L311.4 243.7L310.7 243.2L310.1 242.8L309.5 242.3L309.1 241.9L308.8 241.4L308.6 241.0L308.5 240.6" fill="none" stroke="#fff" stroke-width="5.44" stroke-linecap="butt" stroke-linejoin="round"/>
<path d="M355.3 260.0L355.3 260.9L355.2 261.7L355.0 262.6L354.8 263.4L354.4 264.2L353.9 264.9L353.3 265.7L352.7 266.4L351.9 267.1L351.1 267.7L350.1 268.3L349.1 268.9L348.0 269.4L346.9 269.9L345.7 270.3L344.4 270.7L343.0 271.1L341.6 271.4L340.1 271.6L338.6 271.9L337.1 272.0L335.5 272.2L333.9 272.3L332.3 272.3L330.7 272.3L329.0 272.3L327.4 272.2L325.8 272.1L324.2 271.9L322.6 271.7L321.0 271.5L319.5 271.3L318.0 271.0L316.5 270.7L315.1 270.3L313.8 270.0L312.5 269.6L311.3 269.2L310.1 268.7L309.0 268.3L308.1 267.9L307.1 267.4L306.3 267.0L305.6 266.5L304.9 266.0L304.4 265.6L303.9 265.1L303.6 264.7L303.3 264.3L303.1 263.8" fill="none" stroke="#1a1a1a" stroke-width="7.2" stroke-linecap="butt" stroke-linejoin="round"/>
<path d="M355.2 259.4L355.3 260.3L355.3 261.2L355.2 262.1L354.9 262.9L354.6 263.7L354.2 264.5L353.7 265.3L353.1 266.0L352.4 266.7L351.6 267.3L350.7 268.0L349.7 268.6L348.7 269.1L347.5 269.6L346.3 270.1L345.1 270.5L343.7 270.9L342.3 271.2L340.9 271.5L339.4 271.7L337.9 271.9L336.3 272.1L334.7 272.2L333.1 272.3L331.5 272.3L329.8 272.3L328.2 272.2L326.6 272.1L325.0 272.0L323.3 271.8L321.8 271.6L320.2 271.4L318.7 271.1L317.2 270.8L315.8 270.5L314.4 270.1L313.1 269.7L311.8 269.4L310.6 268.9L309.5 268.5L308.5 268.1L307.5 267.6L306.7 267.2L305.9 266.7L305.2 266.2L304.6 265.8L304.1 265.3L303.7 264.9L303.4 264.4L303.2 264.0L303.1 263.6" fill="none" stroke="#fff" stroke-width="5.44" stroke-linecap="butt" stroke-linejoin="round"/>
<path d="M349.8 283.0L349.8 283.9L349.7 284.7L349.5 285.6L349.3 286.4L348.9 287.2L348.4 287.9L347.8 288.7L347.2 289.4L346.4 290.1L345.6 290.7L344.6 291.3L343.6 291.9L342.5 292.4L341.4 292.9L340.1 293.3L338.8 293.7L337.5 294.1L336.0 294.4L334.6 294.6L333.1 294.9L331.5 295.0L330.0 295.2L328.4 295.3L326.7 295.3L325.1 295.3L323.5 295.3L321.8 295.2L320.2 295.1L318.6 294.9L317.0 294.7L315.4 294.5L313.9 294.3L312.4 294.0L311.0 293.7L309.6 293.3L308.2 293.0L306.9 292.6L305.7 292.2L304.5 291.7L303.5 291.3L302.5 290.9L301.6 290.4L300.7 290.0L300.0 289.5L299.3 289.0L298.8 288.6L298.3 288.1L298.0 287.7L297.7 287.3L297.5 286.8" fill="none" stroke="#1a1a1a" stroke-width="7.2" stroke-linecap="butt" stroke-linejoin="round"/>
<path d="M349.7 282.4L349.8 283.3L349.8 284.2L349.6 285.1L349.4 285.9L349.1 286.7L348.7 287.5L348.2 288.3L347.5 289.0L346.8 289.7L346.0 290.3L345.2 291.0L344.2 291.6L343.1 292.1L342.0 292.6L340.8 293.1L339.5 293.5L338.2 293.9L336.8 294.2L335.4 294.5L333.9 294.7L332.3 294.9L330.8 295.1L329.2 295.2L327.6 295.3L325.9 295.3L324.3 295.3L322.7 295.2L321.0 295.1L319.4 295.0L317.8 294.8L316.2 294.6L314.6 294.4L313.1 294.1L311.6 293.8L310.2 293.5L308.8 293.1L307.5 292.7L306.2 292.4L305.1 291.9L303.9 291.5L302.9 291.1L301.9 290.6L301.1 290.2L300.3 289.7L299.6 289.2L299.0 288.8L298.5 288.3L298.1 287.9L297.8 287.4L297.6 287.0L297.5 286.6" fill="none" stroke="#fff" stroke-width="5.44" stroke-linecap="butt" stroke-linejoin="round"/>
<path d="M344.1 305.5L344.1 306.3L344.1 307.2L343.9 308.0L343.6 308.8L343.2 309.6L342.7 310.4L342.2 311.1L341.5 311.8L340.7 312.5L339.9 313.1L339.0 313.7L338.0 314.2L336.9 314.8L335.7 315.2L334.5 315.7L333.2 316.0L331.8 316.4L330.4 316.7L328.9 316.9L327.4 317.2L325.9 317.3L324.3 317.4L322.7 317.5L321.1 317.6L319.4 317.6L317.8 317.5L316.2 317.4L314.5 317.3L312.9 317.1L311.3 316.9L309.8 316.7L308.2 316.4L306.7 316.1L305.3 315.8L303.9 315.5L302.5 315.1L301.2 314.7L300.0 314.3L298.9 313.9L297.8 313.4L296.8 313.0L295.9 312.5L295.0 312.0L294.3 311.6L293.6 311.1L293.1 310.6L292.6 310.2L292.3 309.7L292.0 309.3L291.8 308.8" fill="none" stroke="#1a1a1a" stroke-width="7.2" stroke-linecap="butt" stroke-linejoin="round"/>
<path d="M344.1 305.0L344.1 305.8L344.1 306.7L344.0 307.6L343.8 308.4L343.5 309.2L343.0 310.0L342.5 310.7L341.9 311.4L341.2 312.1L340.4 312.8L339.5 313.4L338.5 313.9L337.5 314.5L336.3 315.0L335.1 315.4L333.9 315.8L332.5 316.2L331.1 316.5L329.7 316.8L328.2 317.1L326.7 317.2L325.1 317.4L323.5 317.5L321.9 317.6L320.3 317.6L318.6 317.5L317.0 317.5L315.3 317.4L313.7 317.2L312.1 317.0L310.5 316.8L309.0 316.6L307.4 316.3L306.0 316.0L304.5 315.6L303.1 315.3L301.8 314.9L300.6 314.5L299.4 314.0L298.3 313.6L297.2 313.2L296.3 312.7L295.4 312.2L294.6 311.8L293.9 311.3L293.3 310.8L292.8 310.3L292.4 309.9L292.1 309.4L291.9 309.0L291.8 308.6" fill="none" stroke="#fff" stroke-width="5.44" stroke-linecap="butt" stroke-linejoin="round"/>
<path d="M337.9 328.0L337.9 328.9L337.8 329.7L337.6 330.6L337.3 331.4L336.9 332.2L336.4 332.9L335.8 333.7L335.2 334.4L334.4 335.1L333.5 335.7L332.6 336.3L331.6 336.9L330.5 337.4L329.3 337.9L328.0 338.3L326.7 338.7L325.4 339.1L323.9 339.4L322.5 339.6L320.9 339.9L319.4 340.0L317.8 340.2L316.2 340.3L314.6 340.3L312.9 340.3L311.3 340.3L309.6 340.2L308.0 340.1L306.4 339.9L304.8 339.7L303.2 339.5L301.6 339.3L300.1 339.0L298.6 338.7L297.2 338.3L295.9 338.0L294.6 337.6L293.3 337.2L292.2 336.7L291.1 336.3L290.1 335.9L289.1 335.4L288.3 335.0L287.6 334.5L286.9 334.0L286.3 333.6L285.9 333.1L285.5 332.7L285.2 332.3L285.1 331.8" fill="none" stroke="#1a1a1a" stroke-width="7.2" stroke-linecap="butt" stroke-linejoin="round"/>
<path d="M337.8 327.4L337.9 328.3L337.9 329.2L337.7 330.1L337.5 330.9L337.2 331.7L336.7 332.5L336.2 333.3L335.6 334.0L334.8 334.7L334.0 335.3L333.1 336.0L332.1 336.6L331.1 337.1L329.9 337.6L328.7 338.1L327.4 338.5L326.1 338.9L324.7 339.2L323.2 339.5L321.7 339.7L320.2 339.9L318.6 340.1L317.0 340.2L315.4 340.3L313.7 340.3L312.1 340.3L310.4 340.2L308.8 340.1L307.2 340.0L305.5 339.8L303.9 339.6L302.4 339.4L300.8 339.1L299.3 338.8L297.9 338.5L296.5 338.1L295.2 337.7L293.9 337.4L292.7 336.9L291.6 336.5L290.5 336.1L289.5 335.6L288.7 335.2L287.9 334.7L287.2 334.2L286.6 333.8L286.0 333.3L285.6 332.9L285.3 332.4L285.1 332.0L285.0 331.6" fill="none" stroke="#fff" stroke-width="5.44" stroke-linecap="butt" stroke-linejoin="round"/>
<path d="M332.2 351.5L332.2 352.4L332.2 353.2L332.0 354.1L331.7 354.9L331.4 355.7L330.9 356.5L330.4 357.2L329.7 358.0L329.0 358.6L328.1 359.3L327.2 359.9L326.2 360.5L325.1 361.0L324.0 361.5L322.7 362.0L321.4 362.4L320.1 362.7L318.7 363.0L317.2 363.3L315.7 363.6L314.2 363.7L312.7 363.9L311.1 364.0L309.5 364.0L307.8 364.1L306.2 364.0L304.6 364.0L303.0 363.9L301.4 363.7L299.8 363.5L298.2 363.3L296.7 363.1L295.2 362.8L293.8 362.5L292.4 362.2L291.1 361.8L289.8 361.4L288.6 361.0L287.4 360.6L286.4 360.2L285.4 359.8L284.5 359.3L283.6 358.9L282.9 358.4L282.3 358.0L281.7 357.5L281.3 357.1L280.9 356.7L280.7 356.2L280.5 355.8" fill="none" stroke="#1a1a1a" stroke-width="7.2" stroke-linecap="butt" stroke-linejoin="round"/>
<path d="M332.1 350.9L332.2 351.8L332.2 352.7L332.1 353.6L331.9 354.4L331.6 355.3L331.2 356.1L330.7 356.8L330.1 357.6L329.4 358.3L328.6 358.9L327.7 359.6L326.8 360.2L325.7 360.7L324.6 361.2L323.4 361.7L322.1 362.1L320.8 362.5L319.4 362.9L318.0 363.2L316.5 363.4L315.0 363.7L313.5 363.8L311.9 363.9L310.3 364.0L308.7 364.1L307.0 364.1L305.4 364.0L303.8 363.9L302.2 363.8L300.6 363.6L299.0 363.4L297.4 363.2L295.9 362.9L294.5 362.6L293.0 362.3L291.7 362.0L290.4 361.6L289.1 361.2L287.9 360.8L286.8 360.4L285.8 360.0L284.9 359.5L284.0 359.1L283.2 358.6L282.5 358.2L282.0 357.7L281.5 357.3L281.1 356.8L280.8 356.4L280.6 356.0L280.5 355.6" fill="none" stroke="#fff" stroke-width="5.44" stroke-linecap="butt" stroke-linejoin="round"/>
<path d="M327.0 374.5L327.0 375.3L326.9 376.2L326.7 377.0L326.4 377.8L326.1 378.6L325.6 379.4L325.0 380.1L324.3 380.8L323.6 381.5L322.7 382.1L321.8 382.7L320.8 383.2L319.7 383.8L318.5 384.2L317.3 384.7L316.0 385.0L314.6 385.4L313.2 385.7L311.7 385.9L310.2 386.2L308.7 386.3L307.1 386.4L305.5 386.5L303.9 386.6L302.2 386.6L300.6 386.5L298.9 386.4L297.3 386.3L295.7 386.1L294.1 385.9L292.5 385.7L291.0 385.4L289.5 385.1L288.0 384.8L286.6 384.5L285.3 384.1L284.0 383.7L282.7 383.3L281.6 382.9L280.5 382.4L279.5 382.0L278.6 381.5L277.8 381.0L277.0 380.6L276.4 380.1L275.8 379.6L275.3 379.2L275.0 378.7L274.7 378.3L274.6 377.8" fill="none" stroke="#1a1a1a" stroke-width="7.2" stroke-linecap="butt" stroke-linejoin="round"/>
<path d="M326.9 374.0L327.0 374.8L327.0 375.7L326.8 376.6L326.6 377.4L326.3 378.2L325.9 379.0L325.3 379.7L324.7 380.4L324.0 381.1L323.2 381.8L322.3 382.4L321.3 382.9L320.3 383.5L319.1 384.0L317.9 384.4L316.7 384.8L315.3 385.2L313.9 385.5L312.5 385.8L311.0 386.1L309.5 386.2L307.9 386.4L306.3 386.5L304.7 386.6L303.0 386.6L301.4 386.5L299.8 386.5L298.1 386.4L296.5 386.2L294.9 386.0L293.3 385.8L291.7 385.6L290.2 385.3L288.7 385.0L287.3 384.6L285.9 384.3L284.6 383.9L283.3 383.5L282.1 383.0L281.0 382.6L279.9 382.2L279.0 381.7L278.1 381.2L277.3 380.8L276.6 380.3L276.0 379.8L275.5 379.3L275.1 378.9L274.8 378.4L274.6 378.0L274.5 377.6" fill="none" stroke="#fff" stroke-width="5.44" stroke-linecap="butt" stroke-linejoin="round"/>
<path d="M321.3 396.5L321.3 397.3L321.2 398.2L321.0 399.0L320.8 399.8L320.4 400.6L319.9 401.4L319.3 402.1L318.7 402.8L317.9 403.5L317.1 404.1L316.1 404.7L315.1 405.2L314.0 405.8L312.9 406.2L311.7 406.7L310.4 407.0L309.0 407.4L307.6 407.7L306.1 407.9L304.6 408.2L303.1 408.3L301.5 408.4L299.9 408.5L298.3 408.6L296.7 408.6L295.0 408.5L293.4 408.4L291.8 408.3L290.2 408.1L288.6 407.9L287.0 407.7L285.5 407.4L284.0 407.1L282.5 406.8L281.1 406.5L279.8 406.1L278.5 405.7L277.3 405.3L276.1 404.9L275.0 404.4L274.1 404.0L273.1 403.5L272.3 403.0L271.6 402.6L270.9 402.1L270.4 401.6L269.9 401.2L269.6 400.7L269.3 400.3L269.2 399.8" fill="none" stroke="#1a1a1a" stroke-width="7.2" stroke-linecap="butt" stroke-linejoin="round"/>
<path d="M321.2 396.0L321.3 396.8L321.3 397.7L321.2 398.6L320.9 399.4L320.6 400.2L320.2 401.0L319.7 401.7L319.1 402.4L318.4 403.1L317.6 403.8L316.7 404.4L315.7 404.9L314.7 405.5L313.5 406.0L312.3 406.4L311.1 406.8L309.7 407.2L308.3 407.5L306.9 407.8L305.4 408.1L303.9 408.2L302.3 408.4L300.7 408.5L299.1 408.6L297.5 408.6L295.8 408.5L294.2 408.5L292.6 408.4L291.0 408.2L289.3 408.0L287.8 407.8L286.2 407.6L284.7 407.3L283.2 407.0L281.8 406.6L280.4 406.3L279.1 405.9L277.8 405.5L276.6 405.0L275.5 404.6L274.5 404.2L273.5 403.7L272.7 403.2L271.9 402.8L271.2 402.3L270.6 401.8L270.1 401.3L269.7 400.9L269.4 400.4L269.2 400.0L269.1 399.6" fill="none" stroke="#fff" stroke-width="5.44" stroke-linecap="butt" stroke-linejoin="round"/>
<path d="M316.2 418.3L316.2 419.2L316.2 420.0L316.0 420.8L315.7 421.6L315.3 422.3L314.9 423.0L314.3 423.7L313.6 424.4L312.9 425.0L312.0 425.6L311.1 426.1L310.1 426.6L309.0 427.1L307.9 427.5L306.6 427.9L305.3 428.3L304.0 428.6L302.6 428.8L301.1 429.1L299.6 429.2L298.1 429.4L296.5 429.5L294.9 429.5L293.3 429.6L291.7 429.5L290.1 429.5L288.4 429.4L286.8 429.2L285.2 429.1L283.6 428.9L282.1 428.6L280.5 428.4L279.0 428.1L277.6 427.8L276.2 427.5L274.9 427.1L273.6 426.7L272.4 426.4L271.3 426.0L270.2 425.6L269.2 425.2L268.3 424.7L267.5 424.3L266.8 423.9L266.2 423.5L265.6 423.1L265.2 422.7L264.8 422.3L264.6 421.9L264.5 421.5" fill="none" stroke="#1a1a1a" stroke-width="7.2" stroke-linecap="butt" stroke-linejoin="round"/>
<path d="M316.1 417.8L316.2 418.7L316.2 419.5L316.1 420.3L315.9 421.1L315.6 421.9L315.2 422.6L314.6 423.3L314.0 424.0L313.3 424.6L312.5 425.2L311.6 425.8L310.7 426.3L309.6 426.8L308.5 427.3L307.3 427.7L306.0 428.1L304.7 428.4L303.3 428.7L301.9 429.0L300.4 429.2L298.9 429.3L297.3 429.4L295.7 429.5L294.1 429.6L292.5 429.5L290.9 429.5L289.2 429.4L287.6 429.3L286.0 429.2L284.4 429.0L282.8 428.8L281.3 428.5L279.7 428.2L278.3 427.9L276.9 427.6L275.5 427.3L274.2 426.9L272.9 426.5L271.8 426.1L270.7 425.7L269.6 425.3L268.7 424.9L267.8 424.5L267.1 424.1L266.4 423.7L265.8 423.3L265.4 422.8L265.0 422.5L264.7 422.1L264.5 421.7L264.4 421.3" fill="none" stroke="#fff" stroke-width="5.44" stroke-linecap="butt" stroke-linejoin="round"/>
<path d="M312.2 436.3L312.2 437.0L312.1 437.7L312.0 438.4L311.7 439.0L311.3 439.6L310.9 440.2L310.3 440.8L309.7 441.4L308.9 441.9L308.1 442.4L307.2 442.8L306.2 443.2L305.1 443.6L303.9 443.9L302.7 444.2L301.4 444.5L300.1 444.7L298.7 444.9L297.2 445.1L295.8 445.2L294.2 445.2L292.7 445.2L291.1 445.2L289.5 445.2L287.9 445.1L286.3 445.0L284.7 444.8L283.1 444.6L281.5 444.4L279.9 444.1L278.4 443.9L276.9 443.5L275.4 443.2L274.0 442.8L272.6 442.4L271.3 442.0L270.0 441.6L268.8 441.2L267.7 440.7L266.7 440.3L265.7 439.8L264.8 439.3L264.0 438.8L263.3 438.4L262.7 437.9L262.2 437.4L261.7 437.0L261.4 436.5L261.2 436.1L261.1 435.6" fill="none" stroke="#1a1a1a" stroke-width="7.2" stroke-linecap="butt" stroke-linejoin="round"/>
<path d="M312.1 435.9L312.2 436.6L312.2 437.3L312.1 438.0L311.9 438.6L311.6 439.3L311.1 439.9L310.6 440.5L310.0 441.1L309.3 441.6L308.5 442.1L307.7 442.6L306.7 443.0L305.7 443.4L304.6 443.8L303.4 444.1L302.1 444.4L300.8 444.6L299.4 444.8L298.0 445.0L296.5 445.1L295.0 445.2L293.5 445.2L291.9 445.2L290.3 445.2L288.7 445.1L287.1 445.0L285.5 444.9L283.9 444.7L282.3 444.5L280.7 444.3L279.1 444.0L277.6 443.7L276.1 443.4L274.6 443.0L273.2 442.6L271.9 442.2L270.6 441.8L269.4 441.4L268.2 440.9L267.1 440.5L266.1 440.0L265.2 439.5L264.3 439.1L263.6 438.6L262.9 438.1L262.4 437.6L261.9 437.2L261.5 436.7L261.3 436.2L261.1 435.8L261.1 435.3" fill="none" stroke="#fff" stroke-width="5.44" stroke-linecap="butt" stroke-linejoin="round"/>
<path d="M309.8 446.8L309.9 447.4L309.8 448.0L309.7 448.6L309.4 449.2L309.1 449.8L308.6 450.3L308.1 450.8L307.5 451.3L306.7 451.7L305.9 452.1L305.0 452.5L304.1 452.8L303.0 453.1L301.9 453.4L300.7 453.6L299.4 453.8L298.1 453.9L296.7 454.1L295.3 454.1L293.8 454.2L292.3 454.1L290.8 454.1L289.2 454.0L287.7 453.9L286.1 453.7L284.5 453.5L282.9 453.3L281.3 453.0L279.7 452.7L278.2 452.4L276.7 452.0L275.2 451.6L273.7 451.2L272.3 450.8L271.0 450.3L269.7 449.8L268.4 449.4L267.3 448.8L266.2 448.3L265.1 447.8L264.2 447.2L263.3 446.7L262.6 446.1L261.9 445.6L261.3 445.0L260.8 444.5L260.4 443.9L260.1 443.4L259.9 442.9L259.8 442.4" fill="none" stroke="#1a1a1a" stroke-width="7.2" stroke-linecap="butt" stroke-linejoin="round"/>
<path d="M309.7 446.4L309.8 447.0L309.9 447.7L309.8 448.3L309.6 448.9L309.3 449.4L308.9 450.0L308.4 450.5L307.8 451.0L307.2 451.5L306.4 451.9L305.5 452.3L304.6 452.6L303.6 453.0L302.5 453.2L301.3 453.5L300.1 453.7L298.8 453.9L297.4 454.0L296.0 454.1L294.6 454.1L293.1 454.2L291.6 454.1L290.0 454.1L288.5 454.0L286.9 453.8L285.3 453.6L283.7 453.4L282.1 453.2L280.5 452.9L278.9 452.6L277.4 452.2L275.9 451.8L274.4 451.4L273.0 451.0L271.6 450.5L270.3 450.1L269.0 449.6L267.8 449.1L266.7 448.6L265.6 448.0L264.6 447.5L263.7 446.9L262.9 446.4L262.2 445.8L261.5 445.3L261.0 444.7L260.5 444.2L260.2 443.6L259.9 443.1L259.8 442.6L259.8 442.1" fill="none" stroke="#fff" stroke-width="5.44" stroke-linecap="butt" stroke-linejoin="round"/>
<path d="M324.9 194.6L326.9 200.6" stroke="#1a1a1a" stroke-width="0.88" fill="none"/>
<path class="lw" d="M322.5 75.2L319.3 76.3L314.3 82.0L312.4 87.3L313.6 93.0L317.8 99.0L322.5 102.8L330.0 100.0L336.0 80.0L322.5 75.2"/>
<path class="ln" d="M324.5 76.8L321.0 78.0L316.6 83.0L315.0 87.6L316.0 92.5L319.5 97.5L323.5 100.6"/>
<path class="ln" d="M314.3 82.0L324.5 80.3"/>
<path class="ln" d="M313.6 93.0L321.0 91.7"/>
<path class="ln" d="M317.8 99.0L322.3 93.5"/>
<path class="ln" d="M319.3 76.3L325.0 80.0"/>
<ellipse cx="329.3" cy="89.9" rx="14.2" ry="8.4" transform="rotate(-67 329.3 89.9)" class="lw" />
<ellipse cx="330.3" cy="90.5" rx="14.2" ry="8.4" transform="rotate(-67 330.3 90.5)" class="lw" />
<ellipse cx="329.0" cy="89.8" rx="9.8" ry="5.7" transform="rotate(-65 329.0 89.8)" class="ln" />
<ellipse cx="328.8" cy="89.9" rx="6.8" ry="3.7" transform="rotate(-65 328.8 89.9)" class="ln" />
<path class="ln" d="M378.7 155.3L378.7 157.0L378.2 158.6L377.1 160.0L375.5 161.2L373.4 162.1L370.8 162.8L367.8 163.2L364.4 163.3L360.8 163.2L357.1 162.7L353.3 162.0L349.5 160.9L345.8 159.7L342.3 158.3L339.1 156.6L336.2 154.9L333.8 153.0L331.8 151.1L330.4 149.2L329.5 147.4L329.2 145.6L329.5 144.0L330.4 142.5L331.8 141.2"/>
<path class="lw" d="M340.2 137.3L342.2 137.2L344.3 137.2L346.6 137.3L348.9 137.5L351.2 137.8L353.6 138.3L356.0 138.8L358.4 139.5L360.7 140.2L363.0 141.0L365.2 141.9L367.3 142.9L369.3 143.9L371.1 145.0L372.8 146.2L374.3 147.3L375.6 148.5L376.7 149.7L377.6 150.9L378.3 152.1L378.7 153.2L379.0 154.3L379.0 155.4L378.7 156.4L378.3 157.4L377.6 158.3L376.7 159.1L375.6 159.8L374.3 160.4L372.8 160.9L371.1 161.3L369.3 161.6L367.3 161.8L365.2 161.8L363.0 161.8L360.8 161.6L358.4 161.4L356.0 161.0L353.6 160.5L351.3 159.9L348.9 159.2L346.6 158.4L344.4 157.6L342.2 156.6L340.2 155.6L338.3 154.5L336.5 153.4L334.9 152.3L333.5 151.1L332.3 149.9L331.3 148.7L330.5 147.6L329.9 146.4L329.5 145.3L329.4 144.2L329.5 143.1L329.9 142.1L330.4 141.2L331.2 140.4L332.2 139.6L340.3 145.3L340.3 145.3C340.5 146.0 340.4 148.2 341.7 149.5C343.0 150.8 345.6 152.3 348.3 153.3C351.0 154.3 354.9 155.4 357.7 155.7C360.5 156.0 363.4 155.8 365.3 155.2C367.2 154.6 369.0 153.5 369.3 151.9C369.6 150.3 368.8 147.4 367.2 145.8C365.6 144.2 362.2 143.1 359.6 142.6C357.0 142.1 353.4 142.3 351.6 142.6C349.8 142.9 349.1 143.9 348.6 144.2L347.4 146.4L345.6 145.6L346.8 142.6L342.8 141.4L341.2 138.2Z"/>
<path class="ln" d="M349.5 146.5C350.0 146.2 350.8 145.0 352.5 144.6C354.2 144.2 357.3 143.9 359.5 144.3C361.7 144.7 364.1 145.8 365.5 146.8C366.9 147.8 367.4 149.7 367.8 150.3"/>
<path class="ln" d="M350.2 148.6C350.8 148.2 352.4 146.8 354.0 146.4C355.6 146.0 358.2 145.9 360.0 146.3C361.8 146.7 363.8 147.6 364.8 148.6C365.9 149.6 366.1 151.8 366.3 152.5"/>
<path class="ln" d="M351.5 149.8C352.1 149.5 353.6 148.4 355.0 148.2C356.4 147.9 358.6 148.0 360.0 148.3C361.4 148.7 362.8 149.4 363.6 150.3C364.4 151.2 364.4 153.1 364.6 153.6"/>
<path class="lw" d="M454.8 146.3L417.4 125.2C413.5 124.6 410.6 133.5 413.1 136.6L449.2 156.8"/>
<path class="ln" d="M421.7 135.5L426 131.2"/>
<path class="lw" d="M455.6 145.0C455.9 144.6 456.8 143.2 457.6 142.6C458.4 142.0 459.1 141.4 460.5 141.2C461.9 141.0 464.6 140.8 465.9 141.2C467.2 141.6 467.6 142.5 468.2 143.4C468.8 144.3 469.2 146.1 469.4 146.6"/>
<path class="lw" d="M448.9 156.6C448.8 157.2 448.1 158.8 448.0 160.0C447.9 161.2 448.2 162.4 448.6 163.6C449.0 164.8 449.5 166.1 450.2 167.0C450.9 167.9 451.8 168.9 452.6 169.3C453.4 169.7 454.2 169.7 455.0 169.6C455.8 169.5 457.2 168.9 457.6 168.8"/>
<path class="lw" d="M469.4 146.6C469.8 147.4 471.6 149.3 471.8 151.2C472.0 153.1 471.7 155.9 470.7 158.2C469.7 160.5 467.4 163.6 465.9 165.2C464.4 166.8 462.9 167.4 461.6 167.9C460.3 168.4 458.9 168.1 458.3 168.2L452.9 165.2L449.7 157.4L454.6 146.3L467 145.2Z"/>
<path class="ln" d="M455.5 146.8L450.6 157.6"/>
<path class="ln" d="M461 150.6L469.3 148.6M461 150.6L456.2 159.8L458.3 167.9M454.6 146.3L461 150.6M449.7 157.4L456.2 159.8"/>
<path class="lk" d="M461 150.6L469.3 148.6M456.2 159.8L458.3 167.9"/>
<path class="lw" d="M245.5 509.0L247.8 511.5L252.0 520.6L257.5 522.5L263.3 526.2L271.8 529.0L272.7 531.9L278.4 531.4L281.7 518.7L288.0 514.0"/>
<ellipse cx="267.8" cy="507.8" rx="25.6" ry="10.0" transform="rotate(15 267.8 507.8)" class="lw" />
<ellipse cx="268.0" cy="504.8" rx="25.6" ry="10.0" transform="rotate(15 268.0 504.8)" class="lw" />
<ellipse cx="268.6" cy="503.4" rx="18.6" ry="6.9" transform="rotate(15 268.6 503.4)" class="ln" />
<ellipse cx="268.8" cy="504.6" rx="17.6" ry="6.0" transform="rotate(15 268.8 504.6)" class="ln" />
<path class="ln" d="M273.6 511.2L273.4 516.0L276.6 516.6L276.8 511.8Z"/>
<path class="ln" d="M273.6 512.5L276.8 513.2M273.5 514.5L276.7 515.1"/>
<path class="ln" d="M251.5 497.6L254.5 501.5L255.5 507.0L252.3 507.5"/>
<path class="ln" d="M252 499.5L254.8 503.2M252.2 505L255.4 505.2"/>
<path class="ln" d="M264.6 492.3L265 494.6M283.5 497.2L284.5 500.2M247 496.5L249.3 497.8"/>
<path class="lw" d="M207.2 677.5L178.9 790L173.6 811.9L173.6 811.9C174.3 812.9 176.1 816.3 178.0 818.0C179.9 819.7 182.5 821.0 185.0 822.0C187.5 823.0 190.3 823.8 193.0 824.2C195.7 824.7 199.0 824.8 201.2 824.7C203.4 824.6 204.6 824.2 206.0 823.6C207.4 823.0 209.0 821.4 209.6 821.0L224.1 760L235.5 714.5L239.5 697.7L242.2 685Z"/>
<path class="ln" d="M231.2 715L219.9 760L206.5 815C205.8 819 205.2 821.5 204.6 823.6"/>
<path class="ln" d="M232.2 715L220.9 760L207.4 815"/>
<path class="ln" d="M204.6 690.5C205.3 691.4 207.1 694.5 209.0 696.0C210.9 697.5 213.5 698.6 216.0 699.4C218.5 700.2 221.2 700.6 224.0 700.6C226.8 700.6 230.2 700.4 233.0 699.6C235.8 698.8 239.3 696.3 240.6 695.6"/>
<path class="ln" d="M200.6 706.0C201.3 706.9 203.1 710.1 205.0 711.5C206.9 712.9 209.5 713.9 212.0 714.6C214.5 715.3 217.2 715.7 220.0 715.8C222.8 715.9 226.4 715.7 229.0 715.4C231.6 715.1 234.4 714.4 235.5 714.2"/>
<ellipse cx="224.5" cy="679.4" rx="18.0" ry="6.4" transform="rotate(12 224.5 679.4)" class="lw" />
<path class="ln" d="M240.7 685.3L240.0 685.9L239.2 686.4L238.2 686.8L236.9 687.1L235.5 687.3L233.9 687.5L232.2 687.5L230.3 687.5L228.4 687.3L226.4 687.1L224.4 686.7L222.4 686.3L220.4 685.8L218.4 685.2L216.6 684.6L214.8 683.9L213.2 683.2L211.8 682.4L210.5 681.6L209.5 680.8L208.6 680.0L208.0 679.2L207.6 678.5L207.4 677.7"/>
<path class="lw" d="M240.4 592.7L221.6 677.5L229 681L249.8 592.7Z"/>
<path class="ln" d="M248.6 592.7L227.8 680.6"/>
<ellipse cx="247.6" cy="588.2" rx="13.2" ry="6.0" transform="rotate(12 247.6 588.2)" class="lw" />
<ellipse cx="247.7" cy="586.8" rx="13.2" ry="6.0" transform="rotate(12 247.7 586.8)" class="lw" />
<path class="lw" d="M241.8 577L241.2 584.6L247 588.5L253.6 586.2L252.2 580.5Z"/>
<path class="ln" d="M247 588.5L246.6 581.5"/>
<path class="ln" d="M253.6 586.2L256.6 584.6L255.4 582.2"/>
<path class="lw" d="M264.6 562.4L249.3 553.9C243 553.6 236.6 561.6 236.3 570.2L251.2 581L262 580Z"/>
<path class="ln" d="M237.1 565.6L252.4 574.1"/>
<ellipse cx="259.8" cy="572.4" rx="11.2" ry="7.3" transform="rotate(-66 259.8 572.4)" class="lw" />
<ellipse cx="259.4" cy="573.2" rx="3.4" ry="2.3" transform="rotate(-66 259.4 573.2)" class="ln" />
<path class="lw" d="M197 825.5L177.5 817.8C173.5 820 170.2 826.5 170.3 831.6L191.8 845.8L200 846Z"/>
<path class="ln" d="M172.2 827.2L190.2 836.8"/>
<ellipse cx="197.8" cy="836.0" rx="11.6" ry="7.3" transform="rotate(-66 197.8 836.0)" class="lw" />
<ellipse cx="197.3" cy="836.2" rx="3.5" ry="2.4" transform="rotate(-66 197.3 836.2)" class="ln" />
<path class="lw" d="M104.5 777.6L98 781.8L94.2 790.2L95.6 797L100.4 800.6L108 801Z"/>
<path class="ln" d="M98 781.8L103.5 783.5M94.2 790.2L100.2 791M95.6 797L100.8 796.5"/>
<ellipse cx="107.6" cy="789.6" rx="12.9" ry="6.4" transform="rotate(-66 107.6 789.6)" class="lw" />
<ellipse cx="108.6" cy="789.9" rx="12.9" ry="6.4" transform="rotate(-66 108.6 789.9)" class="lw" />
<path class="lw" d="M109.5 785.1L142.5 804L137.8 814.3L103.9 795.5C102.5 791.5 105.5 785.5 109.5 785.1Z"/>
<ellipse cx="140.5" cy="809.2" rx="5.5" ry="3.5" transform="rotate(-66 140.5 809.2)" class="lw" />
<path class="ln" d="M129.6 803.2C127.6 805.5 127.6 808 128.6 809.4"/>
<path class="ln" d="M129.6 803.2L138.5 812.6"/>
<ellipse cx="247.0" cy="862.2" rx="14.0" ry="8.8" transform="rotate(-66 247.0 862.2)" class="lw" />
<path class="lw" d="M249.6 849.8L256.4 852.6L259.8 858.6L258 868L252 873.6L246.6 872L241.8 864.6L243.6 856Z"/>
<path class="ln" d="M243.6 856L249.5 858.5L256.4 852.6M249.5 858.5L248 866.5L252 873.6M241.8 864.6L248 866.5"/>
<ellipse cx="255.4" cy="865.2" rx="9.1" ry="5.3" transform="rotate(-66 255.4 865.2)" class="lw" />
<ellipse cx="255.9" cy="865.5" rx="7.3" ry="4.2" transform="rotate(-66 255.9 865.5)" class="ln" />
<ellipse cx="256.0" cy="865.6" rx="5.8" ry="3.3" transform="rotate(-66 256.0 865.6)" class="ln" />
<text style="mix-blend-mode:multiply;paint-order:stroke" transform="translate(208.85,738.0) rotate(-53.05) scale(1.258,1)" x="-172.0 -118.3 -64.4 -9.3 6.5 43.9 82.4 104.6 143.1 169.2 186.4 220.4 260.7 285.2 322.1 362.5 382.3 419.6 441.4 479.4 499.5 519.8 556.8 575.4 614.8" y="0" font-size="67" font-weight="700" fill="#e3e3e3" stroke="#c0c0c0" stroke-width="2.7" stroke-linejoin="miter" stroke-miterlimit="3">www.polarisersatzteile.de</text>
<text class="lb" x="279.2" y="37.5" text-anchor="middle">1</text>
<text class="lb" x="391.6" y="82.8" text-anchor="middle">2</text>
<text class="lb" x="500.8" y="121.60000000000001" text-anchor="middle">3</text>
<text class="lb" x="409.7" y="301.7" text-anchor="middle">4</text>
<text class="lb" x="361" y="521.5" text-anchor="middle">5</text>
<text class="lb" x="285.9" y="755.6" text-anchor="middle">6</text>
<text class="lb" x="31.3" y="817.6" text-anchor="middle">7</text>
<text class="lb" x="275.5" y="944.2" text-anchor="middle">1</text>
<path class="ln" d="M286.5 44.5L318.9 74"/>
<path class="ln" d="M384.8 89.8L370.2 140.7"/>
<path class="ln" d="M487.5 120.1L447.4 140.3"/>
<path class="ln" d="M354 283.5L397 288.6"/>
<path class="ln" d="M291.9 508.3L345.3 511"/>
<path class="ln" d="M229.6 744L271 747.8"/>
<path class="ln" d="M50.5 803.6L94.7 785.2"/>
<path class="ln" d="M252 874.7L272.8 919.5"/>
<text x="495" y="360" font-size="17.5" textLength="225" lengthAdjust="spacingAndGlyphs" fill="#111">© 2011 Polaris Sales Inc.</text>
<text x="472.6" y="626.7" font-size="24" textLength="72" lengthAdjust="spacingAndGlyphs" fill="#111">FRONT</text>
<path class="ln" d="M516.5 555L612.8 594.1M601.6 571L612.8 594.1L584.4 606.9"/>
</svg>
</body></html>
